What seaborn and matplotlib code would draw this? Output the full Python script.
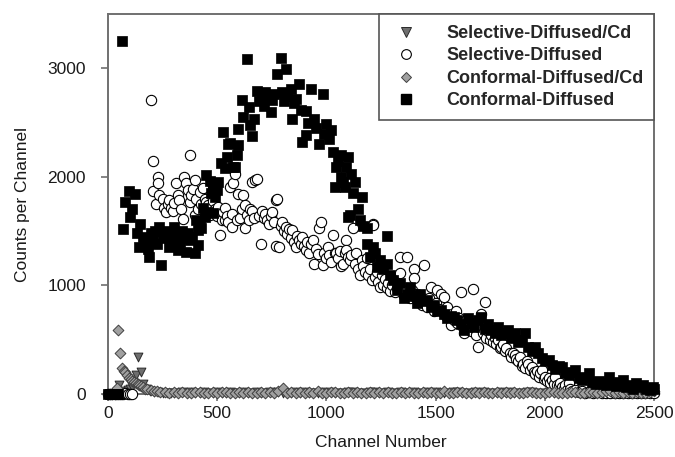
import pandas as pd
import matplotlib
matplotlib.use('Agg')
import matplotlib.pyplot as plt
import seaborn as sns
from matplotlib.lines import Line2D

# data
conf_ch = [0, 8, 16, 24, 32, 40, 48, 65, 69, 77, 96, 102, 111, 124, 134, 142, 148, 160, 168, 181,
           188, 195, 205, 215, 225, 235, 241, 250, 258, 268, 281, 292, 304, 312, 319, 330, 340, 348, 357, 366,
           375, 385, 397, 405, 412, 412, 420, 426, 435, 443, 449, 458, 465, 472, 481, 481, 489, 497, 505, 519,
           528, 536, 545, 551, 559, 574, 582, 590, 597, 597, 613, 620, 636, 644, 651, 657, 667, 682, 690, 705,
           713, 721, 730, 744, 751, 760, 775, 790, 798, 806, 813, 820, 836, 844, 852, 860, 875, 882, 890, 906,
           906, 915, 929, 944, 952, 968, 983, 991, 999, 1010, 1022, 1029, 1037, 1045, 1052, 1068, 1068, 1076, 1083, 1091,
           1099, 1099, 1106, 1114, 1122, 1130, 1145, 1153, 1161, 1168, 1184, 1184, 1199, 1215, 1222, 1230, 1245, 1260, 1276, 1276,
           1290, 1307, 1322, 1338, 1353, 1369, 1384, 1400, 1415, 1430, 1446, 1461, 1477, 1492, 1508, 1523, 1539, 1554, 1569, 1585,
           1600, 1616, 1631, 1646, 1662, 1677, 1693, 1708, 1724, 1739, 1755, 1770, 1786, 1801, 1816, 1832, 1847, 1863, 1878, 1894,
           1909, 1924, 1940, 1955, 1970, 1986, 2001, 2017, 2032, 2048, 2063, 2079, 2094, 2110, 2125, 2140, 2155, 2171, 2186, 2202,
           2217, 2233, 2248, 2264, 2279, 2295, 2310, 2326, 2341, 2356, 2372, 2387, 2402, 2418, 2433, 2449, 2464, 2480, 2495, 2500]
conf_counts = [0, 0, 0, 0, 0, 0, 0, 3250, 1520, 1770, 1870, 1630, 1700, 1840, 1480, 1355, 1570, 1450, 1400, 1340,
               1265, 1480, 1420, 1500, 1380, 1540, 1190, 1460, 1435, 1500, 1355, 1420, 1540, 1460, 1325, 1400, 1500, 1440, 1310, 1480,
               1420, 1450, 1300, 1600, 1370, 1510, 1580, 1530, 1710, 1630, 2015, 1680, 1960, 1850, 1910, 1665, 1815, 1880, 1950, 2125,
               2410, 2080, 2180, 2305, 2310, 2090, 2090, 2200, 2290, 2445, 2705, 2550, 3090, 2645, 2475, 2380, 2535, 2795, 2700, 2705,
               2650, 2780, 2720, 2600, 2705, 2760, 2950, 3100, 2780, 2700, 2995, 2750, 2810, 2535, 2680, 2720, 2860, 2620, 2320, 2610,
               2385, 2500, 2810, 2535, 2450, 2305, 2765, 2400, 2490, 2350, 2430, 2230, 1910, 2090, 2150, 2200, 2000, 1950, 1910, 2090,
               2185, 1630, 1645, 2030, 1850, 1955, 1700, 1600, 1815, 1550, 1525, 1385, 1265, 1355, 1300, 1170, 1230, 1150, 1455, 1200,
               1100, 1050, 955, 1020, 880, 925, 985, 900, 835, 925, 860, 865, 800, 820, 760, 775, 740, 700, 720, 710,
               680, 640, 590, 700, 650, 620, 680, 710, 600, 640, 590, 560, 620, 540, 560, 590, 520, 560, 480, 500,
               560, 430, 400, 435, 380, 330, 300, 315, 270, 230, 260, 250, 190, 170, 200, 220, 150, 130, 160, 190,
               110, 90, 120, 100, 80, 160, 90, 70, 110, 130, 60, 80, 50, 100, 60, 85, 50, 40, 60, 50]

sel_ch = [0, 10, 20, 30, 40, 50, 60, 70, 80, 90, 100, 110,
          196, 204, 208, 219, 227, 231, 235, 250, 258, 266, 273, 281, 288, 296, 304, 312, 320, 327,
          335, 343, 350, 358, 366, 374, 374, 382, 389, 397, 397, 405, 412, 420, 427, 435, 443, 450, 458, 466,
          474, 481, 489, 497, 505, 512, 520, 528, 536, 536, 544, 551, 559, 566, 566, 574, 582, 590, 597, 605,
          613, 620, 628, 628, 636, 644, 651, 659, 659, 667, 674, 682, 690, 700, 705, 713, 721, 728, 736, 744,
          751, 759, 767, 767, 775, 782, 790, 798, 806, 813, 821, 829, 836, 844, 852, 860, 867, 875, 882, 890,
          898, 906, 913, 921, 929, 937, 944, 952, 960, 968, 975, 983, 991, 999, 1006, 1014, 1022, 1029, 1037, 1045,
          1053, 1060, 1068, 1076, 1083, 1091, 1091, 1099, 1106, 1114, 1122, 1130, 1137, 1145, 1153, 1161, 1168, 1176, 1184, 1192,
          1199, 1207, 1215, 1215, 1222, 1230, 1238, 1245, 1253, 1261, 1268, 1276, 1284, 1292, 1300, 1307, 1315, 1322, 1330, 1338,
          1338, 1346, 1353, 1361, 1369, 1376, 1384, 1392, 1400, 1400, 1408, 1415, 1423, 1430, 1438, 1446, 1454, 1461, 1469, 1477,
          1485, 1492, 1500, 1508, 1516, 1523, 1531, 1539, 1547, 1554, 1562, 1569, 1577, 1585, 1593, 1600, 1608, 1616, 1624, 1631,
          1639, 1647, 1655, 1662, 1670, 1678, 1685, 1693, 1700, 1708, 1716, 1724, 1724, 1732, 1739, 1747, 1755, 1763, 1770, 1778,
          1786, 1793, 1801, 1809, 1816, 1824, 1832, 1840, 1847, 1855, 1863, 1870, 1878, 1886, 1894, 1901, 1909, 1917, 1924, 1932,
          1940, 1948, 1955, 1963, 1971, 1978, 1986, 1994, 2001, 2009, 2017, 2025, 2032, 2040, 2048, 2055, 2063, 2071, 2079, 2086,
          2094, 2102, 2110, 2117, 2125, 2140, 2155, 2170, 2185, 2200, 2220, 2240, 2260, 2280, 2300, 2320, 2340, 2360, 2380, 2400,
          2420, 2440, 2460, 2480, 2500]
sel_counts = [0, 0, 0, 0, 0, 0, 0, 0, 10, 0, 0, 0,
              2710, 2145, 1870, 1755, 1995, 1945, 1830, 1800, 1715, 1680, 1750, 1785, 1710, 1690, 1760, 1940, 1830, 1785,
              1700, 1615, 2000, 1940, 1880, 2205, 1770, 1830, 1890, 1970, 1645, 1800, 1700, 1860, 1755, 1900, 1800, 1770, 1740, 1650,
              1820, 1780, 1700, 1640, 1725, 1465, 1600, 1680, 1710, 1600, 1640, 1580, 1910, 1660, 1540, 1940, 2030, 1600, 1845, 1620,
              1700, 1830, 1740, 1525, 1650, 1600, 1700, 1955, 1690, 1620, 1975, 1985, 1640, 1385, 1690, 1620, 1660, 1600, 1570, 1640,
              1675, 1580, 1785, 1360, 1800, 1355, 1550, 1585, 1500, 1540, 1470, 1520, 1440, 1510, 1400, 1355, 1460, 1420, 1380, 1445,
              1360, 1325, 1400, 1300, 1380, 1415, 1200, 1340, 1290, 1525, 1585, 1185, 1300, 1250, 1350, 1280, 1220, 1465, 1300, 1295,
              1250, 1320, 1180, 1200, 1300, 1415, 1325, 1260, 1235, 1280, 1525, 1200, 1295, 1150, 1095, 1230, 1180, 1120, 1250, 1100,
              1150, 1050, 1570, 1555, 1080, 1120, 1035, 985, 1100, 1000, 1060, 980, 1020, 950, 1000, 1080, 940, 980, 1010, 1265,
              1110, 960, 900, 950, 1265, 920, 880, 960, 1155, 1065, 880, 920, 850, 900, 820, 1185, 860, 800, 880, 985,
              800, 760, 840, 955, 780, 925, 760, 895, 720, 800, 700, 635, 740, 680, 760, 650, 700, 940, 620, 560,
              680, 600, 640, 580, 970, 600, 540, 435, 620, 740, 560, 850, 620, 520, 580, 500, 540, 480, 520, 460,
              500, 420, 435, 460, 400, 420, 560, 380, 340, 380, 360, 320, 300, 340, 260, 280, 240, 300, 280, 220,
              250, 200, 180, 210, 160, 190, 220, 140, 160, 120, 150, 100, 130, 90, 160, 80, 70, 100, 60, 50,
              80, 40, 100, 50, 30, 40, 20, 30, 10, 20, 10, 20, 10, 10, 10, 10, 10, 10, 10, 10,
              10, 10, 10, 10, 10]

# Cd runs: peak near the start, then a flat line close to zero
tri_ch = [0, 10, 20, 30, 40, 50, 60, 70, 80, 90, 100, 110, 120, 130, 139, 150, 160, 175, 190, 210, 230, 250, 270, 290] \
    + list(range(300, 2501, 20))
tri_counts = [0, 0, 0, 0, 0, 80, 10, 20, 30, 40, 50, 60, 100, 170, 340, 205, 90, 50, 30, 20, 15, 10, 10, 10,
              10, 5, 15, 10, 20, 5, 10, 15, 10, 5, 20, 10, 5, 15, 10, 10, 20, 5, 10, 15,
              5, 10, 20, 10, 15, 5, 10, 10, 20, 5, 15, 10, 10, 5, 20, 10, 15, 10, 5, 10,
              20, 15, 5, 10, 10, 15, 20, 5, 10, 15, 10, 5, 20, 10, 10, 15, 5, 10, 20, 10,
              15, 5, 10, 10, 20, 15, 5, 10, 10, 20, 5, 15, 10, 10, 5, 20, 10, 15, 5, 10,
              10, 20, 15, 5, 10, 10, 15, 5, 20, 10, 10, 15, 5, 10, 20, 10, 15, 5, 10, 20,
              10, 5, 15, 10, 20, 10, 15, 5, 10, 20, 15]

dia_ch = [0, 10, 20, 30, 42, 46, 56, 65, 72, 80, 88, 96, 104, 112, 120, 128, 136, 144, 152, 160,
          170, 180, 195, 210, 225, 240, 260, 280] + list(range(300, 2501, 20))
dia_counts = [0, 0, 0, 0, 55, 590, 380, 240, 210, 200, 170, 150, 140, 120, 110, 100, 90, 80, 70, 60,
              50, 45, 40, 30, 25, 20, 15, 10,
              15, 10, 20, 5, 10, 15, 20, 10, 5, 15, 10, 20, 15, 10, 5, 20, 10, 15, 10, 5,
              20, 10, 15, 10, 25, 55, 10, 15, 5, 20, 10, 15, 10, 30, 10, 5, 15, 20, 10, 10,
              15, 5, 20, 10, 10, 15, 5, 20, 10, 15, 10, 5, 20, 10, 15, 10, 10, 20, 5, 15,
              10, 10, 25, 5, 10, 15, 20, 10, 5, 15, 10, 20, 10, 5, 15, 10, 20, 10, 15, 5,
              10, 20, 15, 10, 5, 10, 20, 15, 10, 10, 5, 20, 15, 10, 10, 15, 20, 10, 15, 25,
              30, 10, 15, 5, 20, 10, 15, 10, 5, 20, 25]

sns.set_style('ticks')
plt.rcParams['font.family'] = ['Liberation Sans', 'DejaVu Sans']

fig = plt.figure(figsize=(6.75, 4.57), dpi=100)
ax = fig.add_axes([0.160, 0.138, 0.809, 0.831])

# series order as in the legend, later ones on top
sns.scatterplot(x=tri_ch, y=tri_counts, ax=ax, marker='v', s=40, color='#6e6e6e',
                edgecolor='#2a2a2a', linewidth=0.7, clip_on=False, zorder=3)
sns.scatterplot(x=sel_ch, y=sel_counts, ax=ax, marker='o', s=55, color='white',
                edgecolor='black', linewidth=0.8, clip_on=False, zorder=4)
sns.scatterplot(x=dia_ch, y=dia_counts, ax=ax, marker='D', s=30, color='#a0a0a0',
                edgecolor='#404040', linewidth=0.7, clip_on=False, zorder=5)
sns.scatterplot(x=conf_ch, y=conf_counts, ax=ax, marker='s', s=44, color='black',
                edgecolor='black', linewidth=0.5, clip_on=False, zorder=6)

ax.set_xlim(0, 2500)
ax.set_ylim(0, 3500)
ax.set_xticks([0, 500, 1000, 1500, 2000, 2500])
ax.set_yticks([0, 1000, 2000, 3000])

for sp in ax.spines.values():
    sp.set_color('#707070')
    sp.set_linewidth(1.4)
ax.tick_params(axis='both', colors='#707070', labelcolor='#1a1a1a', labelsize=12.5,
               length=5, width=1.2, direction='out')
ax.tick_params(axis='y', pad=11)

ax.set_xlabel('Channel Number', fontsize=12.5, color='#1a1a1a', labelpad=10)
ax.set_ylabel('Counts per Channel', fontsize=12.5, color='#1a1a1a', labelpad=12)

# legend in the reference order
handles = [
    Line2D([], [], ls='', marker='v', ms=6.5, mfc='#6e6e6e', mec='#2a2a2a', mew=0.7),
    Line2D([], [], ls='', marker='o', ms=7, mfc='white', mec='black', mew=0.8),
    Line2D([], [], ls='', marker='D', ms=5.5, mfc='#a0a0a0', mec='#404040', mew=0.7),
    Line2D([], [], ls='', marker='s', ms=6.5, mfc='black', mec='black'),
]
labels = ['Selective-Diffused/Cd', 'Selective-Diffused', 'Conformal-Diffused/Cd', 'Conformal-Diffused']
leg = ax.legend(handles, labels, loc='upper right', bbox_to_anchor=(1.0, 1.0), borderaxespad=0,
                frameon=True, fancybox=False, edgecolor='#555555', framealpha=1,
                prop={'weight': 'bold', 'size': 13}, labelspacing=0.3,
                handletextpad=1.3, borderpad=0.6, handlelength=1.8)
leg.get_frame().set_linewidth(1.2)
leg.set_zorder(10)

plt.savefig('out.png', dpi=100)
